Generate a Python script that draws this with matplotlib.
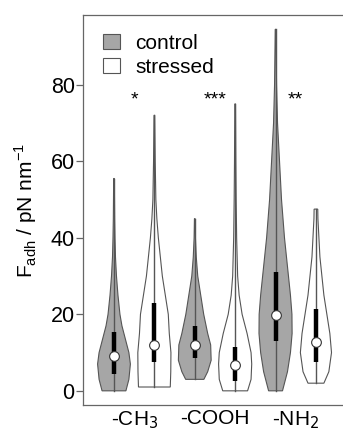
import numpy as np
import matplotlib
matplotlib.use("Agg")
import matplotlib.pyplot as plt
from matplotlib.patches import Patch

plt.rcParams['font.family'] = ['Liberation Sans', 'DejaVu Sans']

groups = ['-CH$_3$', '-COOH', '-NH$_2$']
stars = ['*', '***', '**']
conditions = ['control', 'stressed']

# violin outlines: value -> relative half width (1 = widest)
shape_y = [
    [0, 3, 7, 10, 13, 17, 20, 25, 30, 35, 40, 45, 50, 55.5],
    [1, 5, 10, 15, 20, 25, 30, 35, 40, 45, 50, 60, 72],
    [3, 5, 8, 12, 15, 20, 25, 30, 35, 40, 45],
    [0, 3, 7, 10, 15, 20, 25, 30, 40, 50, 60, 75],
    [0, 5, 10, 15, 20, 25, 30, 40, 50, 60, 70, 80, 94.5],
    [2, 5, 10, 15, 20, 25, 30, 35, 40, 45, 47.5],
]
shape_w = [
    [0.72, 0.90, 0.99, 0.90, 0.72, 0.48, 0.36, 0.24, 0.15, 0.09, 0.06, 0.04, 0.03, 0.02],
    [0.96, 0.99, 1.00, 0.90, 0.84, 0.66, 0.48, 0.36, 0.24, 0.15, 0.09, 0.05, 0.02],
    [0.55, 0.78, 0.99, 0.96, 0.78, 0.54, 0.36, 0.18, 0.09, 0.04, 0.02],
    [0.75, 0.96, 1.00, 0.96, 0.72, 0.42, 0.24, 0.15, 0.09, 0.06, 0.04, 0.02],
    [0.42, 0.72, 0.90, 1.00, 0.99, 0.90, 0.78, 0.54, 0.36, 0.24, 0.12, 0.06, 0.02],
    [0.48, 0.78, 0.94, 0.84, 0.66, 0.48, 0.36, 0.24, 0.18, 0.12, 0.11],
]
q1 = [4.5, 7.5, 8.5, 2.5, 13.0, 7.5]
median = [9.0, 12.0, 12.0, 6.8, 19.7, 12.8]
q3 = [15.5, 23.0, 17.0, 11.5, 31.0, 21.5]
vmin = [0, 1, 3, 0, 0, 2]
vmax = [55.5, 72, 45, 75, 94.5, 47.5]

fig = plt.figure(figsize=(3.43, 4.33), dpi=100)
ax = fig.add_axes([0.242, 0.0647, 0.758, 0.9003])

half = 0.41
for i in range(6):
    pos = i + 1
    y = np.array(shape_y[i])
    w = np.array(shape_w[i]) * half
    face = '#a6a6a6' if i % 2 == 0 else 'white'
    xs = np.concatenate([pos - w, (pos + w)[::-1]])
    ys = np.concatenate([y, y[::-1]])
    ax.fill(xs, ys, facecolor=face, edgecolor='#555555', linewidth=0.8, zorder=2)
    ax.plot([pos, pos], [vmin[i], vmax[i]], color='#555555', lw=1.0, zorder=3)
    ax.plot([pos, pos], [q1[i], q3[i]], color='black', lw=3.2, solid_capstyle='butt', zorder=4)
    ax.plot(pos, median[i], 'o', ms=7, mfc='white', mec='#333333', mew=0.8, zorder=5)

for g in range(3):
    ax.text(2 * g + 1.5, 76, stars[g], ha='center', va='center', fontsize=14)

ax.set_xlim(0.233, 6.67)
ax.set_ylim(-3.7, 98.2)
ax.set_xticks([1.5, 3.5, 5.5])
ax.set_xticklabels(groups, fontsize=15)
ax.tick_params(axis='x', length=0, pad=3)
ax.set_yticks([0, 20, 40, 60, 80])
ax.tick_params(axis='y', labelsize=15.5, length=5, pad=1, color='#666666', width=0.9)
ax.spines['right'].set_visible(False)
for s in ['left', 'top', 'bottom']:
    ax.spines[s].set_color('#666666')
    ax.spines[s].set_linewidth(0.9)
ax.set_ylabel('F$_{\\mathregular{adh}}$ / pN nm$^{\\mathregular{-1}}$', fontsize=15, labelpad=8)

handles = [Patch(facecolor='#a6a6a6', edgecolor='#555555', lw=0.8),
           Patch(facecolor='white', edgecolor='#555555', lw=0.8)]
ax.legend(handles, conditions, loc='upper left', frameon=False, fontsize=15,
          handlelength=0.85, handleheight=0.75, handletextpad=0.7,
          borderaxespad=0.3, labelspacing=0.25, bbox_to_anchor=(0.02, 0.99))

fig.savefig('out.png', dpi=100)
